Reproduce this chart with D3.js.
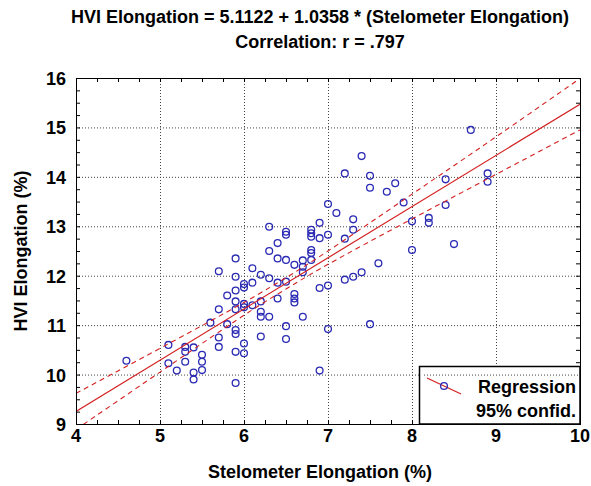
<!DOCTYPE html>
<meta charset="utf-8">
<style>
body { margin: 0; background: #fff; }
svg { font-family: "Liberation Sans", Arial, sans-serif; font-weight: bold; background: #fff; }
.grid line { stroke: #444; stroke-dasharray: 1,2; }
.frame { fill: none; stroke: #000; stroke-width: 1; }
.minor { stroke: #000; }
.point { fill: none; stroke: #2a2ab4; stroke-width: 1.3; }
.reg { fill: none; stroke: #d42020; stroke-width: 1.2; }
.band { fill: none; stroke: #d42020; stroke-width: 1.1; stroke-dasharray: 5,4; }
</style>
<body>
<svg id="chart" width="591" height="486"></svg>
<script src="https://d3js.org/d3.v7.min.js"></script>
<script>

// measured points (stelometer %, HVI %)
var stelometer = [4.6,
  5.1, 5.1, 5.2, 5.3, 5.3, 5.3, 5.4, 5.4, 5.4, 5.5, 5.5, 5.5, 5.6,
  5.7, 5.7, 5.7, 5.7, 5.8, 5.8,
  5.9, 5.9, 5.9, 5.9, 5.9, 5.9, 5.9, 5.9, 5.9,
  6.0, 6.0, 6.0, 6.0, 6.0, 6.0, 6.1, 6.1, 6.1,
  6.2, 6.2, 6.2, 6.2, 6.2, 6.3, 6.3, 6.3, 6.3, 6.4, 6.4, 6.4, 6.4,
  6.5, 6.5, 6.5, 6.5, 6.5, 6.5, 6.6, 6.6, 6.6, 6.6, 6.7, 6.7, 6.7, 6.7,
  6.8, 6.8, 6.8, 6.8, 6.8, 6.8, 6.9, 6.9, 6.9, 6.9, 7.0, 7.0, 7.0, 7.0,
  7.1, 7.2, 7.2, 7.2, 7.3, 7.3, 7.3, 7.4, 7.4, 7.5, 7.5, 7.5,
  7.6, 7.7, 7.8, 7.9, 8.0, 8.0, 8.2, 8.2, 8.4, 8.4, 8.5, 8.7, 8.9, 8.9];
var hvi = [10.28,
  10.60, 10.23, 10.08, 10.56, 10.46, 10.26, 10.55, 10.04, 9.90, 10.40, 10.26, 10.09, 11.05,
  12.09, 11.32, 10.75, 10.56, 11.60, 11.02,
  12.35, 11.98, 11.70, 11.48, 11.32, 10.90, 10.82, 10.46, 9.83,
  11.83, 11.76, 11.43, 11.36, 10.63, 10.43, 12.15, 11.86, 11.40,
  12.02, 11.48, 11.27, 11.17, 10.77, 12.99, 12.50, 11.95, 11.17, 12.66, 12.35, 11.86, 11.54,
  12.89, 12.83, 12.32, 11.88, 10.98, 10.72, 12.22, 11.63, 11.54, 11.46, 12.31, 12.18, 12.07, 11.17,
  12.93, 12.86, 12.79, 12.52, 12.46, 12.32, 13.07, 12.76, 11.75, 10.08, 13.45, 12.83, 11.80, 10.92,
  13.27, 14.07, 12.75, 11.92, 13.14, 12.93, 11.98, 14.42, 12.07, 14.02, 13.78, 11.02,
  12.25, 13.70, 13.87, 13.48, 13.10, 12.52, 13.17, 13.07, 13.95, 13.43, 12.64, 14.95, 14.07, 13.90];

// fitted line from the title
var intercept = 5.1122, slope = 1.0358;

// 95% confidence band
var bandX     = [4, 5, 6, 6.5, 7, 8, 9, 10];
var bandUpper = [9.62, 10.53, 11.46, 11.96, 12.50, 13.65, 14.81, 15.99];
var bandLower = [8.89, 10.05, 11.20, 11.73, 12.23, 13.15, 14.05, 14.95];

var xTicks = [4, 5, 6, 7, 8, 9, 10];
var yTicks = [9, 10, 11, 12, 13, 14, 15, 16];

var pl = 76, pr = 580, pt = 78, pb = 424;

var svg = d3.select("#chart");

var x = d3.scaleLinear().domain([4, 10]).range([pl, pr]);
var y = d3.scaleLinear().domain([9, 16]).range([pb, pt]);

svg.append("defs").append("clipPath").attr("id", "plot")
  .append("rect").attr("x", pl).attr("y", pt)
  .attr("width", pr - pl).attr("height", pb - pt);

// grid
var grid = svg.append("g").attr("class", "grid");
grid.selectAll(".gx").data(xTicks.slice(1, -1)).enter().append("line")
  .attr("x1", d => x(d) + 0.5).attr("x2", d => x(d) + 0.5)
  .attr("y1", pt).attr("y2", pb);
grid.selectAll(".gy").data(yTicks.slice(1, -1)).enter().append("line")
  .attr("y1", d => y(d) + 0.5).attr("y2", d => y(d) + 0.5)
  .attr("x1", pl).attr("x2", pr);

// minor ticks, inward on all sides
var xm = d3.range(4, 10.001, 0.25), ym = d3.range(9, 16.001, 0.25);
var mt = svg.append("g").attr("class", "minor");
xm.forEach(function(v) {
  mt.append("line").attr("x1", x(v) + 0.5).attr("x2", x(v) + 0.5).attr("y1", pt).attr("y2", pt + 4);
  mt.append("line").attr("x1", x(v) + 0.5).attr("x2", x(v) + 0.5).attr("y1", pb).attr("y2", pb - 4);
});
ym.forEach(function(v) {
  mt.append("line").attr("y1", y(v) + 0.5).attr("y2", y(v) + 0.5).attr("x1", pl).attr("x2", pl + 4);
  mt.append("line").attr("y1", y(v) + 0.5).attr("y2", y(v) + 0.5).attr("x1", pr).attr("x2", pr - 4);
});

var plot = svg.append("g").attr("clip-path", "url(#plot)");

// points
plot.selectAll(".point").data(stelometer).enter().append("circle")
  .attr("class", "point")
  .attr("cx", (d, i) => x(d))
  .attr("cy", (d, i) => y(hvi[i]))
  .attr("r", 3.4);

// regression + bands
plot.append("line").attr("class", "reg")
  .attr("x1", x(4)).attr("y1", y(intercept + slope * 4))
  .attr("x2", x(10)).attr("y2", y(intercept + slope * 10));

var bandLine = d3.line().curve(d3.curveNatural)
  .x(d => x(d[0])).y(d => y(d[1]));
plot.append("path").attr("class", "band")
  .attr("d", bandLine(d3.zip(bandX, bandUpper)));
plot.append("path").attr("class", "band")
  .attr("d", bandLine(d3.zip(bandX, bandLower)));

// legend
var lg = svg.append("g");
lg.append("rect").attr("x", 419.5).attr("y", 366.5)
  .attr("width", pr - 419.5).attr("height", pb - 366.5)
  .attr("fill", "#fff").attr("stroke", "#000").attr("stroke-width", 1.5);
lg.append("line").attr("x1", 424).attr("x2", pr - 2)
  .attr("y1", y(10) + 0.5).attr("y2", y(10) + 0.5)
  .attr("stroke", "#444").attr("stroke-dasharray", "1,2");
lg.append("line").attr("class", "reg")
  .attr("x1", 427).attr("y1", 378).attr("x2", 461).attr("y2", 394);
lg.append("circle").attr("class", "point").attr("cx", 444).attr("cy", 386).attr("r", 3.4);
lg.append("text").attr("x", 576).attr("y", 393).attr("text-anchor", "end")
  .attr("font-size", 18).text("Regression");
lg.append("text").attr("x", 576).attr("y", 417).attr("text-anchor", "end")
  .attr("font-size", 18).text("95% confid.");

// frame
svg.append("rect").attr("class", "frame")
  .attr("x", pl + 0.5).attr("y", pt + 0.5)
  .attr("width", pr - pl).attr("height", pb - pt);

// tick labels
svg.selectAll(".xl").data(xTicks).enter().append("text")
  .attr("x", d => x(d)).attr("y", 442)
  .attr("text-anchor", "middle").attr("font-size", 18)
  .text(d => d);
svg.selectAll(".yl").data(yTicks).enter().append("text")
  .attr("x", 66).attr("y", d => y(d) + 7)
  .attr("text-anchor", "end").attr("font-size", 18)
  .text(d => d);

// titles
svg.append("text").attr("x", 320).attr("y", 23).attr("text-anchor", "middle")
  .attr("font-size", 18).text("HVI Elongation = 5.1122 + 1.0358 * (Stelometer Elongation)");
svg.append("text").attr("x", 320).attr("y", 48).attr("text-anchor", "middle")
  .attr("font-size", 18).text("Correlation: r = .797");
svg.append("text").attr("x", 320).attr("y", 478).attr("text-anchor", "middle")
  .attr("font-size", 18).text("Stelometer Elongation (%)");
svg.append("text").attr("transform", "translate(27," + ((pt + pb) / 2) + ") rotate(-90)")
  .attr("text-anchor", "middle").attr("font-size", 18).text("HVI Elongation (%)");

</script>
